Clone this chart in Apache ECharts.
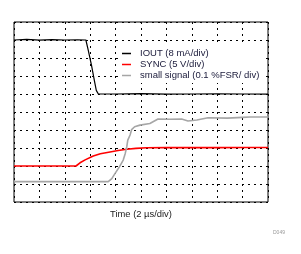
<!DOCTYPE html>
<html>
<head>
<meta charset="utf-8">
<script src="https://cdn.jsdelivr.net/npm/echarts@6/dist/echarts.min.js"></script>
<style>
  html, body { margin: 0; padding: 0; background: #fff; }
  #chart { width: 301px; height: 254px; }
</style>
</head>
<body>
<div id="chart"></div>
<script>
// time in divisions (2 us/div), values in screen divisions
var seriesNames = ['IOUT (8 mA/div)', 'SYNC (5 V/div)', 'small signal (0.1 %FSR/ div)']

var ioutTime = [0, 0.5, 1.0, 1.5, 2.0, 2.5, 2.83, 2.92, 3.05, 3.17, 3.24, 3.32, 4, 5, 6, 7, 8, 9, 10]
var ioutValue = [9.0, 9.03, 8.99, 9.02, 9.0, 9.01, 9.0, 8.45, 7.6, 6.7, 6.2, 6.0, 6.0, 6.02, 5.99, 6.0, 6.01, 6.0, 5.99]

var syncTime = [0, 1, 2, 2.44, 2.6, 2.8, 3.12, 3.4, 3.78, 4.1, 4.44, 4.8, 5.22, 6, 7, 8, 9, 10]
var syncValue = [2.0, 2.0, 2.0, 2.0, 2.18, 2.34, 2.56, 2.68, 2.78, 2.86, 2.93, 2.98, 3.01, 3.02, 3.03, 3.02, 3.03, 3.03]

var smallTime = [0, 1, 2, 3, 3.71, 3.85, 3.98, 4.15, 4.30, 4.38, 4.44, 4.48, 4.57, 4.63, 4.75, 4.96, 5.35, 5.67, 6.14, 6.6, 6.85, 7.2, 7.64, 8.4, 9.0, 9.29, 10]
var smallValue = [1.13, 1.13, 1.13, 1.13, 1.13, 1.3, 1.59, 1.95, 2.33, 2.7, 3.07, 3.44, 3.72, 4.02, 4.18, 4.27, 4.36, 4.61, 4.6, 4.61, 4.5, 4.56, 4.68, 4.66, 4.7, 4.72, 4.72]

function pairs (xs, ys) {
  return xs.map(function (x, i) { return [x, ys[i]] })
}

var chart = echarts.init(document.getElementById('chart'))

var dotted = { color: '#000', width: 1, type: [2, 4] }

var option = {
  animation: false,
  grid: {
    left: 14, top: 22, width: 254, height: 180,
    show: true, borderColor: '#000', borderWidth: 1
  },
  // 图例
  legend: {
    orient: 'vertical',
    left: 118, top: 46,
    padding: [2, 3, 2, 4],
    backgroundColor: '#fff',
    itemWidth: 9, itemHeight: 1.5, itemGap: 0,
    icon: 'rect',
    textStyle: { fontFamily: 'Liberation Sans, Arial', fontSize: 9.5, color: '#1a1a3a', lineHeight: 11, padding: [0, 0, 0, 4] },
    data: seriesNames
  },
  xAxis: {
    type: 'value', min: 0, max: 10, interval: 1,
    name: 'Time (2 µs/div)', nameLocation: 'middle', nameGap: 8,
    nameTextStyle: { fontFamily: 'Liberation Sans, Arial', fontSize: 9.4, color: '#222' },
    axisLine: { show: false }, axisTick: { show: false }, axisLabel: { show: false },
    splitLine: { show: true, lineStyle: dotted }
  },
  yAxis: {
    type: 'value', min: 0, max: 10, interval: 1,
    axisLine: { show: false }, axisTick: { show: false }, axisLabel: { show: false },
    splitLine: { show: true, lineStyle: dotted }
  },
  graphic: [{
    type: 'text', left: 273, top: 230,
    style: { text: 'D049', fontSize: 5, fill: '#999', fontFamily: 'Liberation Sans, Arial' }
  }],
  series: [
    { name: seriesNames[0], type: 'line', data: pairs(ioutTime, ioutValue), showSymbol: false, color: '#000', lineStyle: { width: 1.2 } },
    { name: seriesNames[1], type: 'line', data: pairs(syncTime, syncValue), showSymbol: false, color: '#ff0000', lineStyle: { width: 1.6 } },
    { name: seriesNames[2], type: 'line', data: pairs(smallTime, smallValue), showSymbol: false, color: '#a6a6a6', lineStyle: { width: 1.6 } }
  ]
}
chart.setOption(option)
</script>
</body>
</html>
